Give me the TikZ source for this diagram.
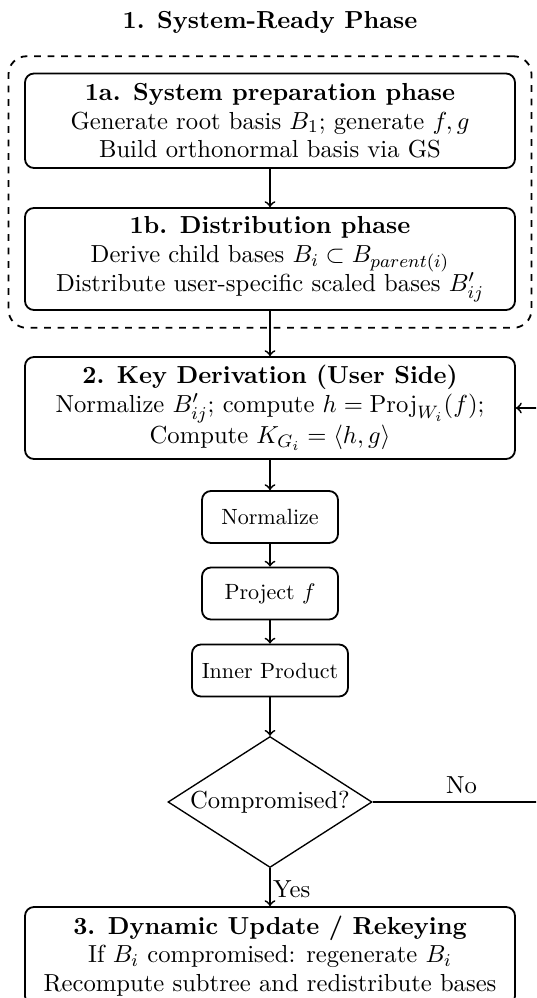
\documentclass[tikz,border=0pt]{standalone}
\usepackage{amsmath}
\usetikzlibrary{shapes.geometric,positioning}
\begin{document}
\begin{tikzpicture}[x=0.4444pt,y=-0.4444pt,
  every node/.style={font=\fontsize{10.95}{12.8}\selectfont},
  bigbox/.style={draw,thick,rounded corners=4pt,align=center,minimum width=490*0.4444pt,inner sep=2pt},
  smallbox/.style={draw,thick,rounded corners=4pt,align=center,minimum height=52*0.4444pt,inner sep=3pt,font=\fontsize{9.8}{11.5}\selectfont},
  decision/.style={draw,semithick,diamond,aspect=1.56,minimum width=204*0.4444pt,minimum height=131*0.4444pt,inner sep=0pt},
  conn/.style={thick,->},
  phasebox/.style={draw,thick,dashed,rounded corners=8pt}]
\useasboundingbox (0,0) rectangle (536,998);
\clip (0,0) rectangle (536,998);
\fill[white] (0,0) rectangle (536,998);
\node[font=\fontsize{10.95}{12.8}\selectfont\bfseries] (title) at (270,22) {1. System-Ready Phase};
\node[phasebox,minimum width=523*0.4444pt,minimum height=271.5*0.4444pt] (phase) at (270,192) {};
\node[bigbox,minimum height=94.5*0.4444pt] (p1a) at (270,120.75)
  {\textbf{1a. System preparation phase}\\Generate root basis $B_1$; generate $f, g$\\Build orthonormal basis via GS};
\node[bigbox,minimum height=102*0.4444pt] (p1b) at (270,259)
  {\textbf{1b. Distribution phase}\\Derive child bases $B_i \subset B_{parent(i)}$\\Distribute user-specific scaled bases $B'_{ij}$};
\node[bigbox,minimum height=102*0.4444pt] (p2) at (270,408)
  {\textbf{2. Key Derivation (User Side)}\\Normalize $B'_{ij}$; compute $h=\mathrm{Proj}_{W_i}(f)$;\\Compute $K_{G_i}=\langle h,g\rangle$};
\node[smallbox,minimum width=136*0.4444pt] (norm) at (270,517) {Normalize};
\node[smallbox,minimum width=136*0.4444pt] (proj) at (270,593.5) {Project $f$};
\node[smallbox,minimum width=156*0.4444pt] (inner) at (270,670.5) {Inner Product};
\node[decision] (comp) at (270,802) {Compromised?};
\node[bigbox,minimum height=98*0.4444pt] (p3) at (270,956)
  {\textbf{3. Dynamic Update / Rekeying}\\If $B_i$ compromised: regenerate $B_i$\\Recompute subtree and redistribute bases};
\coordinate (far) at (570,802);
\draw[conn] (p1a) -- (p1b);
\draw[conn] (p1b) -- (p2);
\draw[conn] (p2) -- (norm);
\draw[conn] (norm) -- (proj);
\draw[conn] (proj) -- (inner);
\draw[conn] (inner) -- (comp);
\draw[conn] (comp) -- node[right,inner sep=1pt,pos=0.55] {Yes} (p3);
\draw[conn] (comp.east) -- node[above,pos=0.45] {No} (far) |- (p2.east);
\end{tikzpicture}
\end{document}
